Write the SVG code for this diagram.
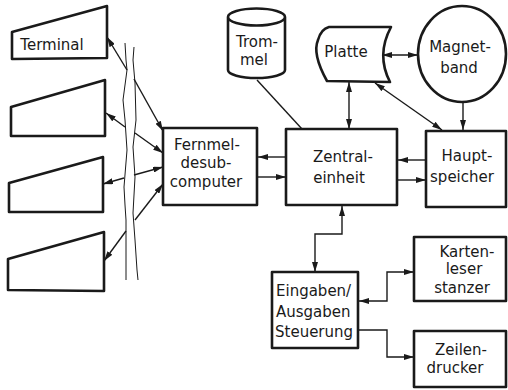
<svg xmlns="http://www.w3.org/2000/svg" width="508" height="390" viewBox="0 0 508 390">
<defs>
<style>
.box{fill:#fff;stroke:#1a1a1a;stroke-width:2.6;stroke-linejoin:round}
.ln{fill:none;stroke:#1a1a1a;stroke-width:1.4}
.bus{fill:none;stroke:#1a1a1a;stroke-width:1}
text{font-family:"DejaVu Sans","Liberation Sans",sans-serif;font-size:15px;fill:#1a1a1a;text-anchor:middle}
.st{text-anchor:start}
</style>
<marker id="ah" viewBox="0 0 10 6" refX="10" refY="3" markerWidth="10" markerHeight="6" markerUnits="userSpaceOnUse" orient="auto-start-reverse">
<path d="M0,0 L10,3 L0,6 Z" fill="#1a1a1a"/>
</marker>
</defs>
<rect width="508" height="390" fill="#fff"/>

<g id="connectors">
<polyline class="bus" points="125,43 126,60 127,70 125,85 123,100 125,120 127,150 124,187 125,205 126,220 126,250 126,280"/>
<polyline class="bus" points="134,47 133,60 135,83 136,120 133,147 135,177 133,213 135,240 137,270 138,280"/>
<line class="ln" x1="127" y1="70" x2="107" y2="37" marker-end="url(#ah)"/>
<line class="ln" x1="125" y1="127" x2="106" y2="113" marker-end="url(#ah)"/>
<line class="ln" x1="124" y1="178" x2="103" y2="184" marker-end="url(#ah)"/>
<line class="ln" x1="126" y1="231" x2="104" y2="261" marker-end="url(#ah)"/>
<line class="ln" x1="134" y1="79" x2="163" y2="131" marker-end="url(#ah)"/>
<line class="ln" x1="135" y1="133" x2="163" y2="153" marker-end="url(#ah)"/>
<line class="ln" x1="134" y1="175" x2="163" y2="167" marker-end="url(#ah)"/>
<line class="ln" x1="135" y1="220" x2="163" y2="184" marker-end="url(#ah)"/>
<line class="ln" x1="286" y1="157" x2="258" y2="157" marker-end="url(#ah)"/>
<line class="ln" x1="258" y1="177" x2="286" y2="177" marker-end="url(#ah)"/>
<line class="ln" x1="426" y1="160" x2="398" y2="160" marker-end="url(#ah)"/>
<line class="ln" x1="398" y1="180" x2="426" y2="180" marker-end="url(#ah)"/>
<line class="ln" x1="257" y1="80" x2="302" y2="129"/>
<line class="ln" x1="349" y1="82" x2="349" y2="129" marker-start="url(#ah)" marker-end="url(#ah)"/>
<line class="ln" x1="375" y1="83" x2="442" y2="130" marker-start="url(#ah)" marker-end="url(#ah)"/>
<line class="ln" x1="382" y1="55" x2="418" y2="55" marker-start="url(#ah)" marker-end="url(#ah)"/>
<line class="ln" x1="463" y1="102" x2="463" y2="130" marker-end="url(#ah)"/>
<polyline class="ln" points="342,206 342,234 315,234 315,272" marker-start="url(#ah)" marker-end="url(#ah)"/>
<polyline class="ln" points="359,301 387,301 387,272 414,272" marker-start="url(#ah)" marker-end="url(#ah)"/>
<polyline class="ln" points="359,330 387,330 387,357 414,357" marker-end="url(#ah)"/>
</g>

<g id="terminal1">
<polygon class="box" points="12,32 107,6 107,58 12,59"/>
<text x="52" y="50">Terminal</text>
</g>
<g id="terminal2">
<polygon class="box" points="11,107 105,80 105,136 11,136"/>
</g>
<g id="terminal3">
<polygon class="box" points="9,183 103,157 103,212 9,212"/>
</g>
<g id="terminal4">
<polygon class="box" points="8,259 104,232 104,291 8,290"/>
</g>

<g id="fernmelde">
<rect class="box" x="163" y="128" width="94" height="77"/>
<text x="207" y="150">Fernmel-</text>
<text x="206" y="168">desub-</text>
<text x="206" y="187">computer</text>
</g>

<g id="zentral">
<rect class="box" x="286" y="129" width="111" height="76"/>
<text x="343" y="162">Zentral-</text>
<text x="339" y="183">einheit</text>
</g>

<g id="haupt">
<rect class="box" x="426" y="131" width="80" height="76"/>
<text x="467" y="161">Haupt-</text>
<text x="462" y="182">speicher</text>
</g>

<g id="trommel">
<path class="box" d="M228,17 L228,70 A28.5,8 0 0 0 285,70 L285,17 A28.5,8.5 0 0 0 228,17 A28.5,8.5 0 0 0 285,17"/>
<text x="257" y="47">Trom-</text>
<text x="254" y="65">mel</text>
</g>

<g id="platte">
<path class="box" d="M329,27 L391,27 Q376,55 390,82 L327,81 Q312,54 318,40 Q321,29 329,27 Z"/>
<text x="346" y="57">Platte</text>
</g>

<g id="magnetband">
<ellipse class="box" cx="462" cy="54" rx="44" ry="48"/>
<text x="460" y="52">Magnet-</text>
<text x="459" y="73">band</text>
</g>

<g id="eingaben">
<rect class="box" x="272" y="272" width="86" height="76"/>
<text class="st" x="276" y="296">Eingaben/</text>
<text class="st" x="276" y="317">Ausgaben</text>
<text class="st" x="275" y="337">Steuerung</text>
</g>

<g id="karten">
<rect class="box" x="414" y="237" width="92" height="64"/>
<text x="467" y="257">Karten-</text>
<text x="464" y="274">leser</text>
<text x="462" y="293">stanzer</text>
</g>

<g id="zeilen">
<rect class="box" x="414" y="331" width="92" height="56"/>
<text x="461" y="355">Zeilen-</text>
<text x="455" y="373">drucker</text>
</g>
</svg>
